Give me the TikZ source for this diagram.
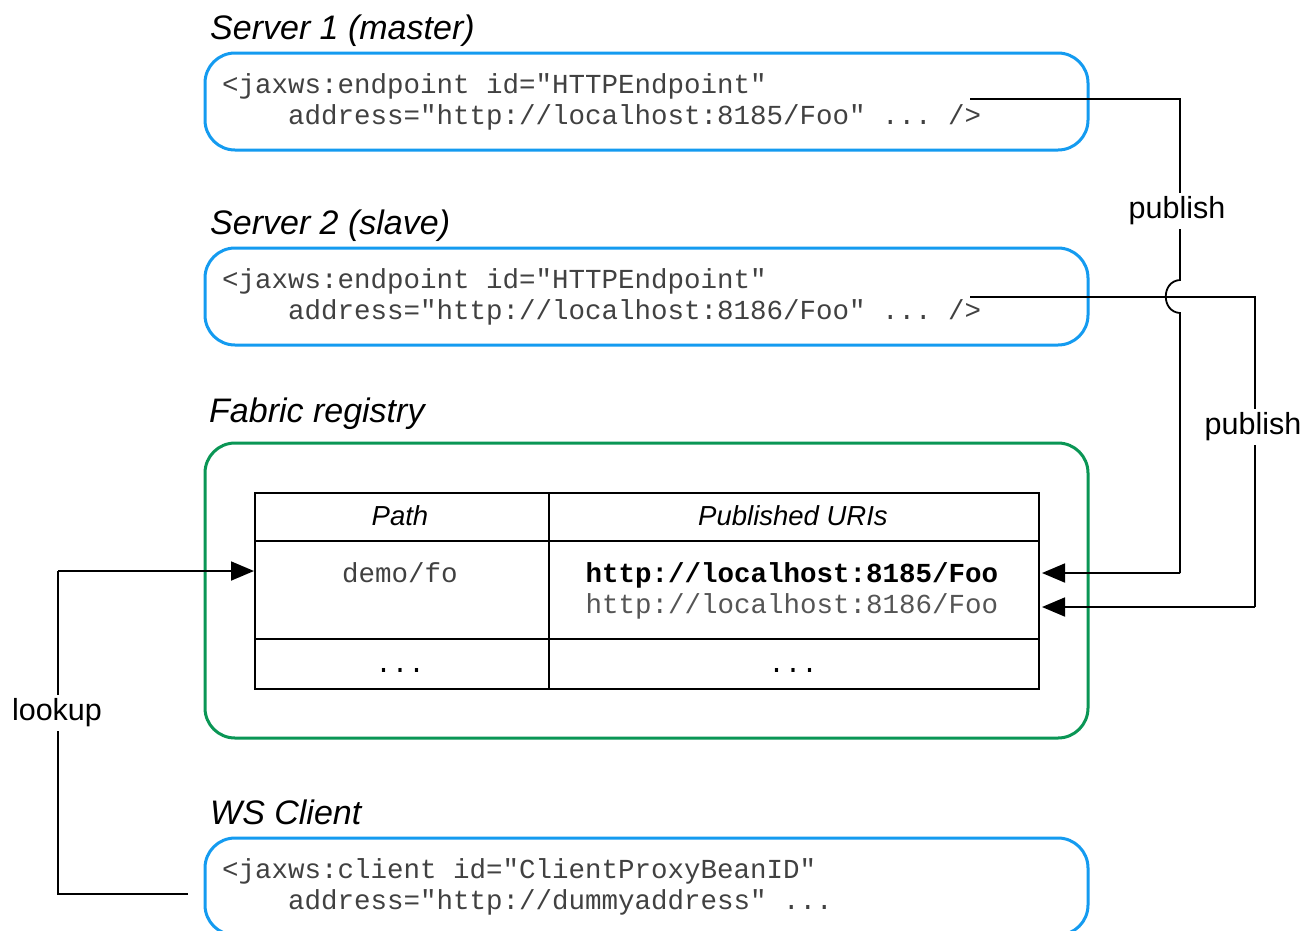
\documentclass[tikz,border=0pt]{standalone}
\usepackage{fontspec}
\setmainfont{Liberation Sans}
\setmonofont{Liberation Mono}
\usetikzlibrary{arrows.meta}
\definecolor{boxblue}{RGB}{20,155,240}
\definecolor{boxgreen}{RGB}{10,150,85}
\definecolor{codegray}{RGB}{65,65,65}
\definecolor{urlgray}{RGB}{85,85,85}
\begin{document}
\begin{tikzpicture}[x=1pt,y=-1pt,
  title/.style={anchor=base west, inner sep=0pt, font=\fontsize{34}{40}\selectfont\itshape},
  bluebox/.style={draw=boxblue, line width=3pt, rounded corners=30pt, inner sep=0pt, minimum width=883pt, minimum height=97pt},
  greenbox/.style={draw=boxgreen, line width=3pt, rounded corners=30pt, inner sep=0pt, minimum width=883pt, minimum height=295pt},
  code/.style={anchor=base west, inner sep=0pt, font=\fontsize{27.5}{31}\ttfamily, text=codegray},
  cell/.style={draw=black, line width=1.8pt, inner sep=0pt},
  head/.style={anchor=base, inner sep=0pt, font=\fontsize{27.5}{32}\selectfont\itshape},
  cellcode/.style={anchor=base, inner sep=0pt, font=\fontsize{27.5}{31}\ttfamily},
  conn/.style={draw=black, line width=1.8pt},
  tip/.style={-{Triangle[length=23pt,width=19pt]}},
  lbl/.style={fill=white, inner sep=4pt, font=\fontsize{30.5}{36}\selectfont}
]
\clip (0,0) rectangle (1315,930);
\fill[white] (0,0) rectangle (1315,930);

% titles
\node[title] (t1) at (210,39) {Server 1 (master)};
\node[title] (t2) at (210,234) {Server 2 (slave)};
\node[title] (t3) at (209,422) {Fabric registry};
\node[title] (t4) at (210,824) {WS Client};

% boxes
\node[bluebox] (b1) at (646.5,101.5) {};
\node[bluebox] (b2) at (646.5,296.5) {};
\node[greenbox] (reg) at (646.5,590.5) {};
\node[bluebox] (b4) at (646.5,886.5) {};

% code texts
\node[code] (c1a) at (222,93) {<jaxws:endpoint id="HTTPEndpoint"};
\node[code] (c1b) at (288,124) {address="http://localhost:8185/Foo" ... />};
\node[code] (c2a) at (222,288) {<jaxws:endpoint id="HTTPEndpoint"};
\node[code] (c2b) at (288,319) {address="http://localhost:8186/Foo" ... />};
\node[code] (c4a) at (222,878) {<jaxws:client id="ClientProxyBeanID"};
\node[code] (c4b) at (288,909) {address="http://dummyaddress" ...};

% table
\node[cell, minimum width=294pt, minimum height=48pt] (hA) at (402,517) {};
\node[cell, minimum width=490pt, minimum height=48pt] (hB) at (794,517) {};
\node[cell, minimum width=294pt, minimum height=98pt] (rA) at (402,590) {};
\node[cell, minimum width=490pt, minimum height=98pt] (rB) at (794,590) {};
\node[cell, minimum width=294pt, minimum height=50pt] (sA) at (402,664) {};
\node[cell, minimum width=490pt, minimum height=50pt] (sB) at (794,664) {};

\node[head] (hAt) at (400,525) {Path};
\node[head] (hBt) at (793,525) {Published URIs};
\node[cellcode, text=codegray] (path) at (400,582) {demo/fo};
\node[cellcode, font=\fontsize{27.5}{31}\ttfamily\bfseries] (u1) at (792,582) {http://localhost:8185/Foo};
\node[cellcode, text=urlgray] (u2) at (792,613) {http://localhost:8186/Foo};
\node[cellcode] (dA) at (400,672) {...};
\node[cellcode] (dB) at (793,672) {...};

% connector coordinates
\coordinate (s1) at (970,99);
\coordinate (k1) at (1180,99);
\coordinate (h1) at (1180,280);
\coordinate (h2) at (1180,313);
\coordinate (k2) at (1180,573);
\coordinate (e1) at (1042,573);
\coordinate (s2) at (970,297);
\coordinate (k3) at (1255,297);
\coordinate (k4) at (1255,607);
\coordinate (e2) at (1042,607);
\coordinate (s3) at (188,894);
\coordinate (k5) at (58,894);
\coordinate (k6) at (58,571);
\coordinate (e3) at (254,571);

% connectors
\draw[conn] (s2) -- (k3) -- (k4);
\draw[conn, tip] (k4) -- (e2);
\draw[conn] (s1) -- (k1) -- (h1) .. controls (1161,281) and (1161,312) .. (h2) -- (k2);
\draw[conn, tip] (k2) -- (e1);
\draw[conn] (s3) -- (k5) -- (k6);
\draw[conn, tip] (k6) -- (e3);

% labels
\node[lbl] (l1) at (1177,211) {publish};
\node[lbl] (l2) at (1253,427) {publish};
\node[lbl] (l3) at (57,713) {lookup};
\end{tikzpicture}
\end{document}
